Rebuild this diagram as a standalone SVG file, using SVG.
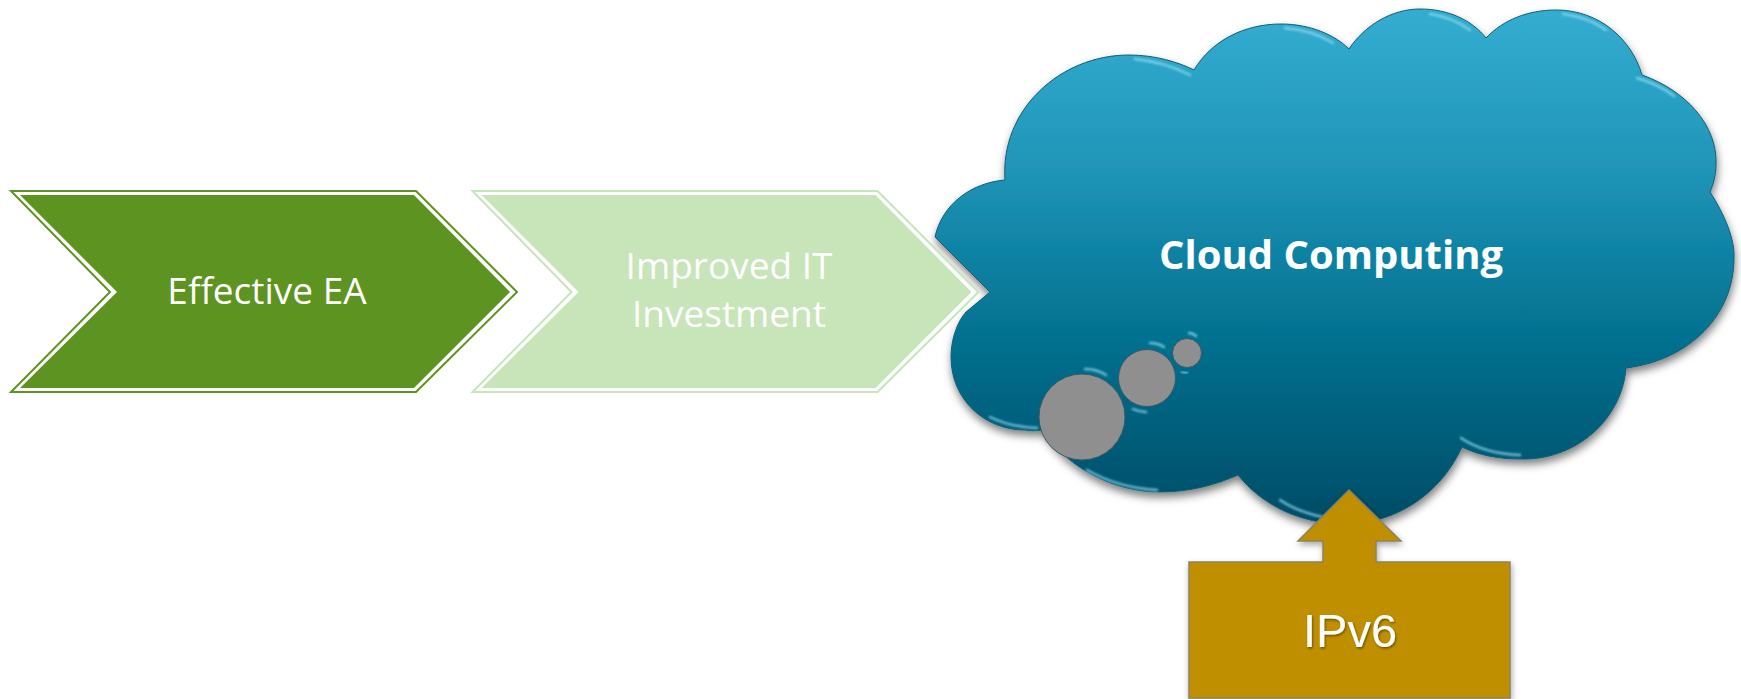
<svg xmlns="http://www.w3.org/2000/svg" width="1741" height="699" viewBox="0 0 1741 699">
<style>
.t{fill:#fff;text-anchor:middle;font-family:"Open Sans","Liberation Sans",sans-serif}
.hl{fill:none;stroke:#8fdcf0;stroke-width:2.5;stroke-linecap:round;stroke-opacity:.75;filter:url(#b)}
.line{fill:none;stroke-width:2}
</style>
<defs>
<linearGradient id="cg" gradientUnits="userSpaceOnUse" x1="0" y1="9" x2="0" y2="524">
<stop offset="0" stop-color="#33add0"/><stop offset=".3" stop-color="#2196b9"/><stop offset=".55" stop-color="#077a9a"/><stop offset="1" stop-color="#024c66"/>
</linearGradient>
<filter id="s" x="-5%" y="-5%" width="110%" height="112%"><feDropShadow dx="1" dy="5" stdDeviation="4" flood-color="#000" flood-opacity=".5"/></filter>
<filter id="s2" x="-5%" y="-5%" width="110%" height="112%"><feDropShadow dx="1" dy="3" stdDeviation="3" flood-color="#000" flood-opacity=".35"/></filter>
<filter id="ts" x="-10%" y="-10%" width="120%" height="120%"><feDropShadow dx="1" dy="1.5" stdDeviation="1" flood-color="#000" flood-opacity=".45"/></filter>
<filter id="b" x="-30%" y="-100%" width="160%" height="300%"><feGaussianBlur stdDeviation="1.1"/></filter>
<polygon id="co" points="11,191 416,191 517,292 416,392 11,392 110,292"/>
<polygon id="ci" points="20,195 414,195 510,292 414,388 20,388 117,292"/>
</defs>
<rect width="1741" height="699" fill="#fff"/>
<g id="cloud">
<path filter="url(#s)" fill="url(#cg)" stroke="#125d75" stroke-width="1" d="M1005,180 C1000,110 1060,55 1129,55 C1155,55 1178,62 1194,70 C1212,40 1245,24 1281,24 C1310,24 1335,35 1349,49 C1365,25 1392,9 1420,9 C1448,9 1472,20 1486,38 C1503,20 1528,10 1556,10 C1600,10 1632,40 1642,75 C1685,90 1718,125 1716,165 C1716,175 1713,185 1710,192 C1725,215 1735,240 1734,258 C1734,315 1690,360 1626,368 C1622,420 1575,461 1520,459 C1498,459 1478,455 1462,447 C1440,495 1395,524 1345,524 C1300,524 1262,505 1238,475 C1215,485 1190,492 1160,492 C1115,492 1070,470 1042,430 C1035,431 1030,431 1025,430 C985,430 951,400 951,357 C951,340 957,322 966,312 L990,292 L935,237 C942,205 970,183 1005,180 Z"/>
<path class="hl" d="M1135,59 Q1165,62 1190,75"/>
<path class="hl" d="M1285,28 Q1312,30 1333,43"/>
<path class="hl" d="M1430,14 Q1452,17 1470,30"/>
<path class="hl" d="M1563,14 Q1588,17 1606,30"/>
<path class="hl" d="M1637,78 Q1660,85 1674,96"/>
<path class="hl" d="M990,417 Q1010,427 1037,428"/>
<path class="hl" d="M1087,470 Q1118,488 1157,490"/>
<path class="hl" d="M1280,500 Q1298,512 1323,517"/>
<path class="hl" d="M1461,438 Q1485,454 1520,455"/>
<path class="hl" d="M1085,369 Q1097,369 1106,375"/>
<path class="hl" d="M1150,343 Q1158,343 1164,347"/>
<path class="hl" d="M1189,333 Q1193,333 1196,336"/>
<path class="hl" d="M1133,409 Q1139,412 1146,412"/>
<path class="hl" d="M1182,372 Q1184,373 1187,373"/>
<circle cx="1082" cy="417" r="43" fill="#8f8f8f" stroke="#3c5a66" stroke-width="1"/>
<circle cx="1147" cy="378" r="28.5" fill="#8f8f8f" stroke="#3c5a66" stroke-width="1"/>
<circle cx="1187" cy="353" r="14.5" fill="#8f8f8f" stroke="#3c5a66" stroke-width="1"/>
<text class="t" x="1331" y="269" font-size="40" font-weight="700">Cloud Computing</text>
</g>
<g id="effective-ea">
<use href="#co" class="line" stroke="#5d9320"/>
<use href="#ci" fill="#5d9320"/>
<text class="t" x="267" y="304" font-size="37">Effective EA</text>
</g>
<g id="improved-it">
<g transform="translate(461.5 0)">
<use href="#co" class="line" stroke="#c7e5b8"/>
<use href="#ci" fill="#c7e5b8"/>
</g>
<text class="t" x="729" y="279" font-size="37">Improved IT</text>
<text class="t" x="729" y="327" font-size="37">Investment</text>
</g>
<g id="ipv6">
<path filter="url(#s2)" fill="#bf8f00" stroke="#8a8260" stroke-width="1.5" d="M1349,490 L1401,541 L1376,541 L1376,562 L1510,562 L1510,698 L1189,698 L1189,562 L1323,562 L1323,541 L1298,541 Z"/>
<path d="M1192,568 H1327 M1371,568 H1507" fill="none" stroke="#cfa52c" stroke-width="3" filter="url(#b)"/>
<path d="M1192,692 H1507" fill="none" stroke="#ad8200" stroke-width="3" filter="url(#b)"/>
<text x="1350" y="647" font-size="47" fill="#fff" text-anchor="middle" font-family="'Liberation Sans',Arial,sans-serif" filter="url(#ts)">IPv6</text>
</g>
<g id="connectors"></g>
</svg>
